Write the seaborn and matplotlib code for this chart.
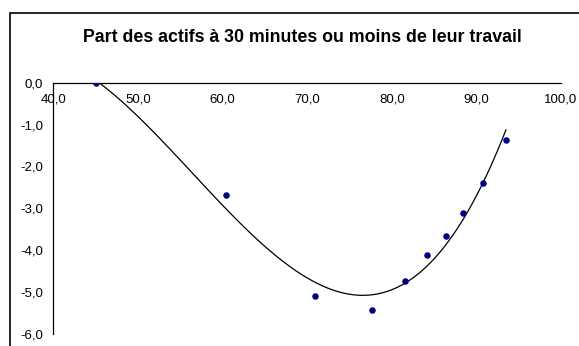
import numpy as np
import pandas as pd
import seaborn as sns
import matplotlib.pyplot as plt
from matplotlib.patches import Rectangle
from matplotlib.ticker import FuncFormatter

# values
part_actifs = [45.0, 60.4, 70.9, 77.7, 81.6, 84.2, 86.4, 88.4, 90.8, 93.5]
ecart = [0.0, -2.68, -5.09, -5.42, -4.74, -4.11, -3.67, -3.10, -2.39, -1.37]
x_ticks = [40, 50, 60, 70, 80, 90, 100]
y_ticks = [0, -1, -2, -3, -4, -5, -6]
title = "Part des actifs à 30 minutes ou moins de leur travail"

df = pd.DataFrame({"x": part_actifs, "y": ecart})

sns.set_style("white")
plt.rcParams['font.family'] = ['Liberation Sans', 'DejaVu Sans']
plt.rcParams['text.color'] = 'black'

fig = plt.figure(figsize=(5.79, 3.46), dpi=100)
ax = fig.add_axes([53.3 / 579, 12 / 346, (561 - 53.3) / 579, (334 - 82.7) / 346])

# polynomial trend line (order 3) + points
sns.regplot(data=df, x="x", y="y", order=3, ci=None, ax=ax,
            scatter_kws=dict(marker="D", s=22, color="#000080", alpha=1,
                             linewidths=0, zorder=3),
            line_kws=dict(color="black", lw=0.9))

ax.set_xlim(40, 100)
ax.set_ylim(-6, 0)
ax.set_xticks(x_ticks)
ax.set_yticks(y_ticks)
fmt = FuncFormatter(lambda v, p: f"{v:.1f}".replace(".", ","))
ax.xaxis.set_major_formatter(fmt)
ax.yaxis.set_major_formatter(fmt)
ax.set_xlabel("")
ax.set_ylabel("")

ax.spines['top'].set_visible(False)
ax.spines['right'].set_visible(False)
ax.spines['bottom'].set_position(('data', 0))
for s in ['bottom', 'left']:
    ax.spines[s].set_color("black")
    ax.spines[s].set_linewidth(0.9)
ax.tick_params(axis='both', direction='out', length=3.5, width=0.9, color="black",
               labelsize=9.5, labelcolor="black")
ax.tick_params(axis='x', pad=4)
ax.tick_params(axis='y', pad=4)
ax.patch.set_alpha(0)

fig.text(302 / 579, 1 - 37 / 346, title, ha="center", va="center",
         fontsize=12.8, fontweight="bold", color="black")

# chart area border
fig.patches.append(Rectangle((10 / 579, -0.2), 1.2, 1 - 13 / 346 + 0.2,
                             transform=fig.transFigure, fill=False,
                             edgecolor="black", linewidth=1.2))

fig.savefig("out.png", dpi=100)
